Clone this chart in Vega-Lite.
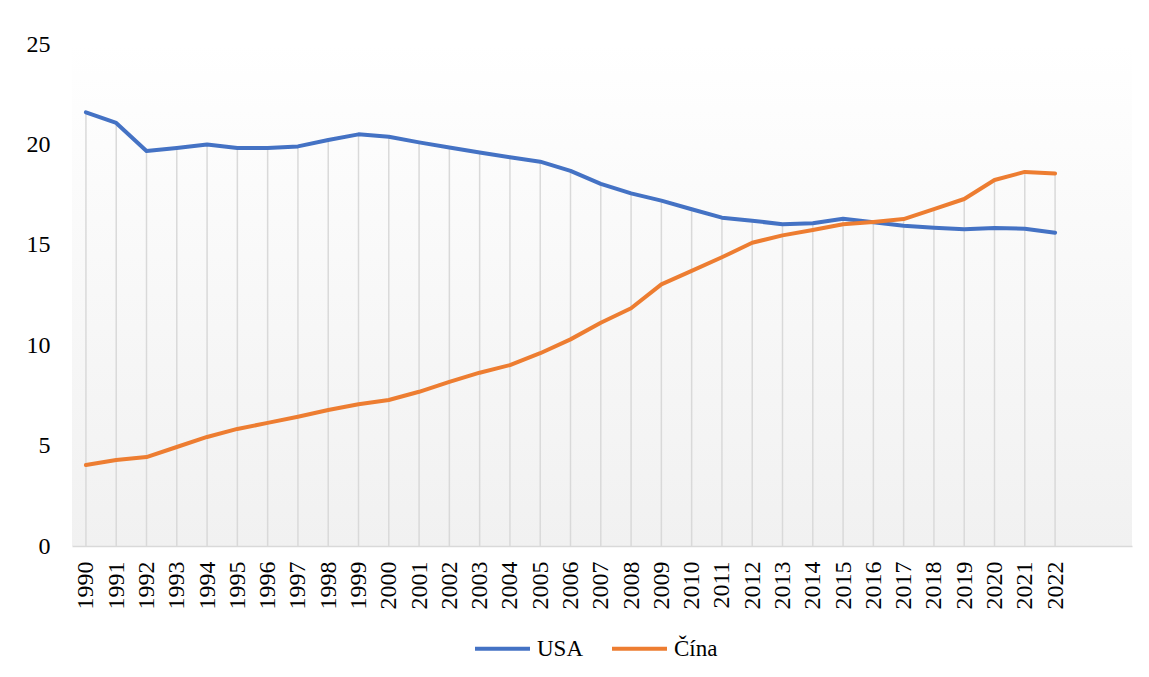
{
  "$schema": "https://vega.github.io/schema/vega-lite/v6.json",
  "width": 1060,
  "height": 502,
  "autosize": {"type": "none"},
  "padding": {"left": 72, "top": 44, "right": 17, "bottom": 131},
  "background": "#ffffff",
  "config": {
    "font": "Liberation Serif",
    "view": {
      "stroke": null,
      "fill": {"gradient": "linear", "x1": 0, "y1": 0, "x2": 0, "y2": 1,
        "stops": [{"offset": 0, "color": "#ffffff"}, {"offset": 0.13, "color": "#fdfdfd"}, {"offset": 1, "color": "#f1f1f1"}]}
    },
    "axis": {
      "title": null,
      "labelFont": "Liberation Serif",
      "labelFontSize": 24,
      "labelColor": "#000000",
      "ticks": false,
      "grid": false,
      "labelOverlap": false,
      "labelFlush": false
    },
    "axisX": {
      "labelAngle": 270,
      "labelAlign": "right",
      "labelBaseline": "middle",
      "labelPadding": 15,
      "labelFontSize": 24,
      "domainColor": "#d9d9d9",
      "domainWidth": 1.5,
      "format": "d"
    },
    "axisY": {
      "domain": false,
      "labelFontSize": 24,
      "labelPadding": 22
    }
  },
  "data": {
    "values": [
      {"year": 1990, "series": "USA", "value": 21.6},
      {"year": 1991, "series": "USA", "value": 21.07},
      {"year": 1992, "series": "USA", "value": 19.67},
      {"year": 1993, "series": "USA", "value": 19.82},
      {"year": 1994, "series": "USA", "value": 20.0},
      {"year": 1995, "series": "USA", "value": 19.82},
      {"year": 1996, "series": "USA", "value": 19.82},
      {"year": 1997, "series": "USA", "value": 19.9},
      {"year": 1998, "series": "USA", "value": 20.22},
      {"year": 1999, "series": "USA", "value": 20.5},
      {"year": 2000, "series": "USA", "value": 20.38},
      {"year": 2001, "series": "USA", "value": 20.1},
      {"year": 2002, "series": "USA", "value": 19.85},
      {"year": 2003, "series": "USA", "value": 19.6},
      {"year": 2004, "series": "USA", "value": 19.36},
      {"year": 2005, "series": "USA", "value": 19.14},
      {"year": 2006, "series": "USA", "value": 18.68},
      {"year": 2007, "series": "USA", "value": 18.03},
      {"year": 2008, "series": "USA", "value": 17.56},
      {"year": 2009, "series": "USA", "value": 17.2},
      {"year": 2010, "series": "USA", "value": 16.77},
      {"year": 2011, "series": "USA", "value": 16.35},
      {"year": 2012, "series": "USA", "value": 16.2},
      {"year": 2013, "series": "USA", "value": 16.02},
      {"year": 2014, "series": "USA", "value": 16.07},
      {"year": 2015, "series": "USA", "value": 16.3},
      {"year": 2016, "series": "USA", "value": 16.12},
      {"year": 2017, "series": "USA", "value": 15.95},
      {"year": 2018, "series": "USA", "value": 15.85},
      {"year": 2019, "series": "USA", "value": 15.78},
      {"year": 2020, "series": "USA", "value": 15.84},
      {"year": 2021, "series": "USA", "value": 15.8},
      {"year": 2022, "series": "USA", "value": 15.6},
      {"year": 1990, "series": "Čína", "value": 4.03},
      {"year": 1991, "series": "Čína", "value": 4.28},
      {"year": 1992, "series": "Čína", "value": 4.43},
      {"year": 1993, "series": "Čína", "value": 4.93},
      {"year": 1994, "series": "Čína", "value": 5.43},
      {"year": 1995, "series": "Čína", "value": 5.83},
      {"year": 1996, "series": "Čína", "value": 6.13},
      {"year": 1997, "series": "Čína", "value": 6.44},
      {"year": 1998, "series": "Čína", "value": 6.77},
      {"year": 1999, "series": "Čína", "value": 7.06},
      {"year": 2000, "series": "Čína", "value": 7.27},
      {"year": 2001, "series": "Čína", "value": 7.68},
      {"year": 2002, "series": "Čína", "value": 8.17},
      {"year": 2003, "series": "Čína", "value": 8.63},
      {"year": 2004, "series": "Čína", "value": 9.01},
      {"year": 2005, "series": "Čína", "value": 9.6},
      {"year": 2006, "series": "Čína", "value": 10.29},
      {"year": 2007, "series": "Čína", "value": 11.12},
      {"year": 2008, "series": "Čína", "value": 11.84},
      {"year": 2009, "series": "Čína", "value": 13.03},
      {"year": 2010, "series": "Čína", "value": 13.7},
      {"year": 2011, "series": "Čína", "value": 14.38},
      {"year": 2012, "series": "Čína", "value": 15.1},
      {"year": 2013, "series": "Čína", "value": 15.47},
      {"year": 2014, "series": "Čína", "value": 15.74},
      {"year": 2015, "series": "Čína", "value": 16.02},
      {"year": 2016, "series": "Čína", "value": 16.14},
      {"year": 2017, "series": "Čína", "value": 16.28},
      {"year": 2018, "series": "Čína", "value": 16.78},
      {"year": 2019, "series": "Čína", "value": 17.28},
      {"year": 2020, "series": "Čína", "value": 18.23},
      {"year": 2021, "series": "Čína", "value": 18.63},
      {"year": 2022, "series": "Čína", "value": 18.55}
    ]
  },
  "layer": [
    {
      "transform": [{"aggregate": [{"op": "max", "field": "value", "as": "top"}], "groupby": ["year"]}],
      "mark": {"type": "rule", "color": "#d9d9d9", "strokeWidth": 1.5},
      "encoding": {
        "x": {
          "field": "year", "type": "quantitative",
          "scale": {"domain": [1989.54, 2024.54], "nice": false, "zero": false},
          "axis": {
            "labelFontSize": 24,
            "values": [1990,1991,1992,1993,1994,1995,1996,1997,1998,1999,2000,2001,2002,2003,2004,2005,2006,2007,2008,2009,2010,2011,2012,2013,2014,2015,2016,2017,2018,2019,2020,2021,2022]
          }
        },
        "y": {
          "field": "top", "type": "quantitative",
          "scale": {"domain": [0, 25], "nice": false},
          "axis": {"labelFontSize": 24, "values": [0, 5, 10, 15, 20, 25]}
        },
        "y2": {"datum": 0}
      }
    },
    {
      "mark": {"type": "line", "strokeWidth": 4, "strokeCap": "round", "strokeJoin": "round"},
      "encoding": {
        "x": {
          "field": "year", "type": "quantitative",
          "axis": {
            "labelFontSize": 24,
            "values": [1990,1991,1992,1993,1994,1995,1996,1997,1998,1999,2000,2001,2002,2003,2004,2005,2006,2007,2008,2009,2010,2011,2012,2013,2014,2015,2016,2017,2018,2019,2020,2021,2022]
          }
        },
        "y": {
          "field": "value", "type": "quantitative",
          "axis": {"labelFontSize": 24, "values": [0, 5, 10, 15, 20, 25]}
        },
        "color": {
          "field": "series", "type": "nominal",
          "scale": {"domain": ["USA", "Čína"], "range": ["#4472C4", "#ED7D31"]},
          "legend": {
            "title": null,
            "orient": "none",
            "direction": "horizontal",
            "legendX": 401,
            "legendY": 575,
            "symbolType": "stroke",
            "symbolSize": 3025,
            "symbolStrokeWidth": 4,
            "labelFontSize": 23,
            "labelFont": "Liberation Serif",
            "labelColor": "#000000",
            "labelOffset": 5,
            "columnPadding": 20
          }
        }
      }
    }
  ]
}
